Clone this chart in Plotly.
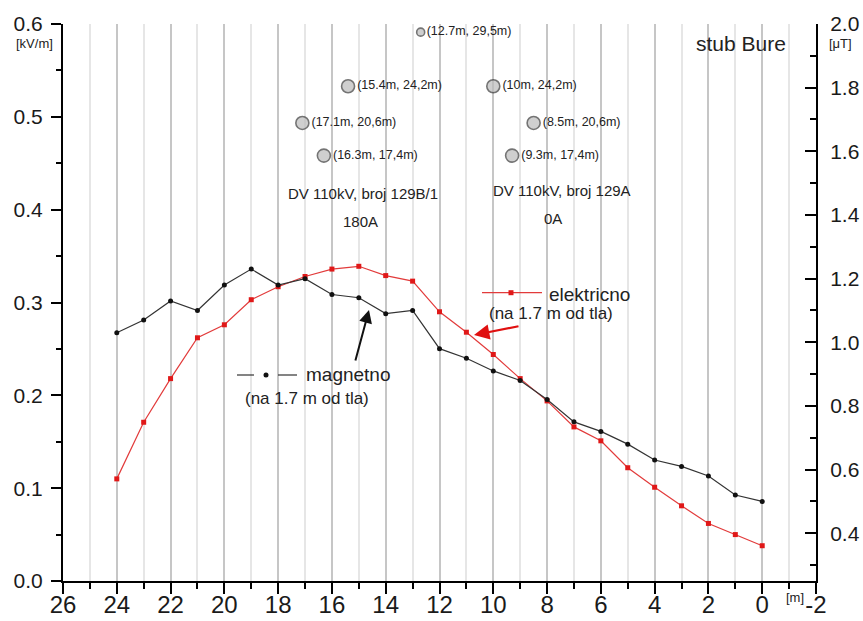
import plotly.graph_objects as go

# Measurement profile across the corridor (distance from tower axis, m)
distance_m = [24, 23, 22, 21, 20, 19, 18, 17, 16, 15, 14, 13, 12,
              11, 10, 9, 8, 7, 6, 5, 4, 3, 2, 1, 0]

# Electric field at 1.7 m above ground [kV/m]
electric_kv_m = [0.110, 0.171, 0.218, 0.262, 0.276, 0.303, 0.317, 0.328,
                 0.336, 0.339, 0.329, 0.323, 0.290, 0.268, 0.244, 0.218,
                 0.194, 0.166, 0.151, 0.122, 0.101, 0.081, 0.062, 0.050,
                 0.038]

# Magnetic flux density at 1.7 m above ground [uT]
magnetic_ut = [1.03, 1.07, 1.13, 1.10, 1.18, 1.23, 1.18, 1.20, 1.15, 1.14,
               1.09, 1.10, 0.98, 0.95, 0.91, 0.88, 0.82, 0.75, 0.72, 0.68,
               0.63, 0.61, 0.58, 0.52, 0.50]

# Conductor positions (horizontal offset, height)
conductor_x = [12.7, 15.4, 17.1, 16.3, 10.0, 8.5, 9.3]
conductor_h = [29.5, 24.2, 20.6, 17.4, 24.2, 20.6, 17.4]
conductor_text = ["(12.7m, 29,5m)", "(15.4m, 24,2m)", "(17.1m, 20,6m)",
                  "(16.3m, 17,4m)", "(10m, 24,2m)", "(8.5m, 20,6m)",
                  "(9.3m, 17,4m)"]

# Tick labels
x_tick_vals = [26, 24, 22, 20, 18, 16, 14, 12, 10, 8, 6, 4, 2, 0, -2]
x_tick_text = ["26", "24", "22", "20", "18", "16", "14", "12", "10", "8",
               "6", "4", "2", "0", "-2"]
x_minor_vals = [25, 23, 21, 19, 17, 15, 13, 11, 9, 7, 5, 3, 1, -1]
e_tick_vals = [0.0, 0.1, 0.2, 0.3, 0.4, 0.5, 0.6]
e_tick_text = ["0.0", "0.1", "0.2", "0.3", "0.4", "0.5", "0.6"]
e_minor_vals = [0.05, 0.15, 0.25, 0.35, 0.45, 0.55]
b_tick_vals = [0.4, 0.6, 0.8, 1.0, 1.2, 1.4, 1.6, 1.8, 2.0]
b_tick_text = ["0.4", "0.6", "0.8", "1.0", "1.2", "1.4", "1.6", "1.8", "2.0"]
b_minor_vals = [0.3, 0.5, 0.7, 0.9, 1.1, 1.3, 1.5, 1.7, 1.9]

FONT = "Liberation Sans, Arial, sans-serif"
NARROW = "Liberation Sans Narrow, Arial Narrow, Liberation Sans, sans-serif"
RED = "#e23b3b"
DARK = "#222222"

W, H = 863, 621
L, R, T, B = 63, 47, 24, 40
X_RANGE = [26, -2]
E_RANGE = [0.0, 0.6]
B_RANGE = [0.25, 2.0]
H_RANGE = [-24.3, 30.3]


def dx(px):
    """pixel column -> distance axis value"""
    return X_RANGE[0] + (px - L) * (X_RANGE[1] - X_RANGE[0]) / (W - L - R)


def dy(py):
    """pixel row -> left axis value"""
    return E_RANGE[0] + (H - B - py) * (E_RANGE[1] - E_RANGE[0]) / (H - T - B)


def paper_x(px):
    return (px - L) / (W - L - R)


def paper_y(py):
    return (H - B - py) / (H - T - B)


fig = go.Figure()

fig.add_trace(go.Scatter(
    x=distance_m, y=magnetic_ut, yaxis="y2", mode="lines+markers",
    line=dict(color="#333333", width=1.2),
    marker=dict(color="#111111", size=5, symbol="circle"),
    name="magnetno", showlegend=False))

fig.add_trace(go.Scatter(
    x=distance_m, y=electric_kv_m, yaxis="y", mode="lines+markers",
    line=dict(color=RED, width=1.2),
    marker=dict(color="#e01818", size=5, symbol="square"),
    name="elektricno", showlegend=False))

top_h = max(conductor_h)
fig.add_trace(go.Scatter(
    x=conductor_x, y=conductor_h, yaxis="y3", mode="markers+text",
    text=conductor_text, textposition="middle right",
    textfont=dict(family=FONT, size=12.5, color=DARK),
    marker=dict(size=[8 if h == top_h else 13 for h in conductor_h],
                color="#bcbcbc", line=dict(color="#3a3a3a", width=1.6)),
    showlegend=False, cliponaxis=False))

axis_common = dict(showline=True, linecolor="black", linewidth=2,
                   tickcolor="black", tickwidth=2, zeroline=False,
                   automargin=False)
y_font = dict(family=FONT, size=21, color="#1a1a1a")

fig.update_layout(
    width=W, height=H, autosize=False,
    margin=dict(l=L, r=R, t=T, b=B),
    paper_bgcolor="white", plot_bgcolor="white",
    font=dict(family=FONT, color=DARK),
    xaxis=dict(range=X_RANGE, tickmode="array", tickvals=x_tick_vals,
               ticktext=x_tick_text, ticks="outside", ticklen=11,
               ticklabelstandoff=-10,
               tickfont=dict(family=NARROW, size=24, color="#1a1a1a"),
               showgrid=True, gridcolor="#c6c6c6", gridwidth=1.5,
               minor=dict(tickmode="array", tickvals=x_minor_vals,
                          ticks="outside", ticklen=6, tickwidth=2,
                          tickcolor="black", showgrid=True,
                          gridcolor="#e6e6e6", gridwidth=1.5),
               **axis_common),
    yaxis=dict(range=E_RANGE, tickmode="array", tickvals=e_tick_vals,
               ticktext=e_tick_text, ticks="outside", ticklen=10,
               ticklabelstandoff=4, showgrid=False, tickfont=y_font,
               minor=dict(tickmode="array", tickvals=e_minor_vals,
                          ticks="outside", ticklen=5, tickwidth=2,
                          tickcolor="black", showgrid=False),
               **axis_common),
    yaxis2=dict(range=B_RANGE, overlaying="y", side="right",
                tickmode="array", tickvals=b_tick_vals, ticktext=b_tick_text,
                ticks="inside", ticklen=11, ticklabelstandoff=8,
                showgrid=False, tickfont=y_font,
                minor=dict(tickmode="array", tickvals=b_minor_vals,
                           ticks="inside", ticklen=6, tickwidth=2,
                           tickcolor="black", showgrid=False),
                **axis_common),
    yaxis3=dict(range=H_RANGE, overlaying="y", visible=False),
    showlegend=False,
)


def note(text, px, py, size, color=DARK, xanchor="center"):
    fig.add_annotation(x=dx(px), y=dy(py), xref="x", yref="y", text=text,
                       showarrow=False, xanchor=xanchor, yanchor="middle",
                       font=dict(family=FONT, size=size, color=color))


def unit(text, px, py, size=13):
    fig.add_annotation(x=paper_x(px), y=paper_y(py), xref="paper",
                       yref="paper", text=text, showarrow=False,
                       xanchor="center", yanchor="middle",
                       font=dict(family=FONT, size=size, color=DARK))


# Tower / line descriptions
note("DV 110kV, broj 129B/1", 363, 193, 15)
note("180A", 360, 221, 15)
note("DV 110kV, broj 129A", 562, 190, 15)
note("0A", 553, 218, 15)
note("stub Bure", 741, 43, 21)

# Axis units
unit("[kV/m]", 34, 43)
unit("[\u03bcT]", 840, 43)
unit("[m]", 795, 597)

# Series keys
note("elektricno", 547, 294, 19, xanchor="left")
note("(na 1.7 m od tla)", 551, 313, 17)
note("magnetno", 304, 374, 19, xanchor="left")
note("(na 1.7 m od tla)", 307, 398, 17)

fig.add_shape(type="line", xref="x", yref="y", x0=dx(482), x1=dx(542),
              y0=dy(292.7), y1=dy(292.7), line=dict(color=RED, width=1.2))
fig.add_shape(type="rect", xref="x", yref="y", xsizemode="pixel",
              ysizemode="pixel", xanchor=dx(511), yanchor=dy(292.7),
              x0=-2.5, x1=2.5, y0=-2.5, y1=2.5,
              fillcolor="#e01818", line=dict(width=0))
for a, b in [(237, 254), (278, 297)]:
    fig.add_shape(type="line", xref="x", yref="y", x0=dx(a), x1=dx(b),
                  y0=dy(375), y1=dy(375),
                  line=dict(color="#333333", width=1.2))
fig.add_shape(type="circle", xref="x", yref="y", xsizemode="pixel",
              ysizemode="pixel", xanchor=dx(266), yanchor=dy(375),
              x0=-2.5, x1=2.5, y0=-2.5, y1=2.5,
              fillcolor="#111111", line=dict(width=0))

# Pointer arrows to the curves
fig.add_annotation(x=dx(474), y=dy(335), xref="x", yref="y", text="",
                   showarrow=True, ax=46, ay=-9, arrowhead=2,
                   arrowsize=1.4, arrowwidth=2.2, arrowcolor="#e01010")
fig.add_annotation(x=dx(369), y=dy(310), xref="x", yref="y", text="",
                   showarrow=True, ax=-14, ay=52, arrowhead=2,
                   arrowsize=1.3, arrowwidth=2, arrowcolor="#111111")

fig.write_html("out.html")
